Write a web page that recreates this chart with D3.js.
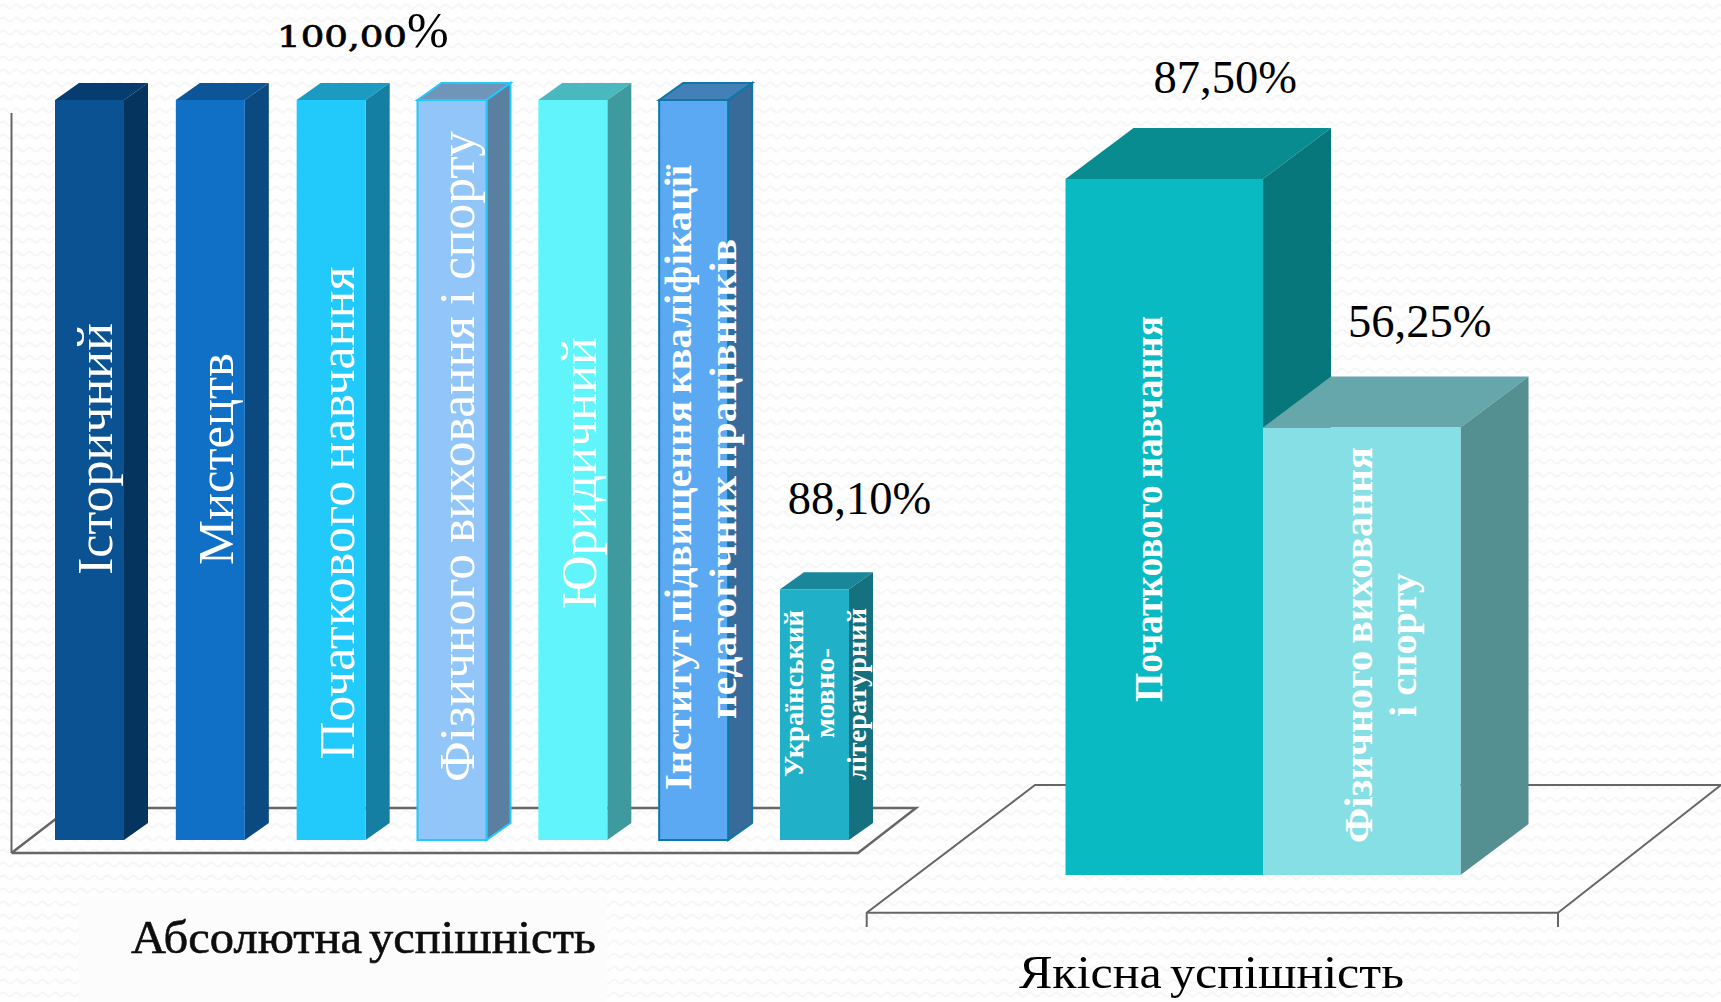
<!DOCTYPE html>
<html>
<head>
<meta charset="utf-8">
<script src="https://cdn.jsdelivr.net/npm/d3@7"></script>
<style>
  html, body { margin: 0; padding: 0; background: #fff; }
  svg { display: block; }
  text { font-family: "Liberation Serif", serif; }
</style>
</head>
<body>
<svg id="chart" width="1721" height="1002"></svg>
<script>
// absolute success, the y axis of this one starts at 82
const absCategories = ['Історичний', 'Мистецтв', 'Початкового навчання', 'Фізичного виховання і спорту', 'Юридичний', 'Інститут підвищення кваліфікації|педагогічних працівників', 'Український|мовно-|літературний'];
const absValues = [100, 100, 100, 100, 100, 100, 88.1];
const absLabels = ['100,00', '88,10%'];

// quality success
const qualCategories = ['Початкового навчання', 'Фізичного виховання|і спорту'];
const qualValues = [87.5, 56.25];
const qualLabels = ['87,50%', '56,25%'];

const absTitle = 'Абсолютна успішність';
const qualTitle = 'Якісна успішність';

const absColors = [
  { front: '#0a5291', side: '#05345f', top: '#073c70' },
  { front: '#1070c6', side: '#0a4a80', top: '#0c5698' },
  { front: '#22c9fb', side: '#147fa3', top: '#1b9bc2' },
  { front: '#92c6f8', side: '#5b7f9f', top: '#7095b9', stroke: '#22c9fb' },
  { front: '#61f4fb', side: '#3e9a9f', top: '#4ab9bf' },
  { front: '#5aa9f2', side: '#386b9a', top: '#4380b8', stroke: '#0d78a8' },
  { front: '#20b1c9', side: '#157080', top: '#198799' },
];
const qualColors = [
  { front: '#0abac2', side: '#07777c', top: '#088c90' },
  { front: '#85dfe4', side: '#548f91', top: '#65a7ab' },
];

const svg = d3.select('#chart');

// faint wavy texture of the slide background
const defs = svg.append('defs');
const wave = defs.append('pattern')
  .attr('id', 'waves')
  .attr('width', 13)
  .attr('height', 13)
  .attr('patternUnits', 'userSpaceOnUse');
wave.append('path')
  .attr('d', 'M0 6.5 Q3.25 2.5 6.5 6.5 T13 6.5')
  .attr('fill', 'none')
  .attr('stroke', '#f6f6f6')
  .attr('stroke-width', 2);
defs.append('filter').attr('id', 'soft').append('feGaussianBlur').attr('stdDeviation', 0.6);

svg.append('rect').attr('width', 1721).attr('height', 1002).attr('fill', '#fefefe');
svg.append('rect').attr('width', 1721).attr('height', 1002).attr('fill', 'url(#waves)');
svg.append('rect').attr('x', 79).attr('y', 897).attr('width', 528).attr('height', 105).attr('fill', '#fcfcfc');

function drawFloor(g, pts, width) {
  g.append('path')
    .attr('d', d3.line()(pts))
    .attr('fill', 'none')
    .attr('stroke', '#666')
    .attr('stroke-width', width);
}

function drawBars(g, cfg) {
  const bar = g.selectAll('.bar')
    .data(cfg.values)
    .join('g')
    .attr('class', 'bar');

  const x0 = (d, i) => cfg.x(i);
  const x1 = (d, i) => cfg.x(i) + cfg.x.bandwidth();
  const yTop = (d) => cfg.y(d);
  const yBase = cfg.y.range()[0];

  bar.append('path')
    .attr('fill', (d, i) => cfg.colors[i].top)
    .attr('stroke', (d, i) => cfg.colors[i].stroke || 'none')
    .attr('stroke-width', 2)
    .attr('d', (d, i) => d3.line()([
      [x0(d, i), yTop(d)], [x0(d, i) + cfg.dx, yTop(d) - cfg.dy],
      [x1(d, i) + cfg.dx, yTop(d) - cfg.dy], [x1(d, i), yTop(d)],
    ]) + 'Z');

  bar.append('path')
    .attr('fill', (d, i) => cfg.colors[i].side)
    .attr('stroke', (d, i) => cfg.colors[i].stroke || 'none')
    .attr('stroke-width', 2)
    .attr('d', (d, i) => d3.line()([
      [x1(d, i), yTop(d)], [x1(d, i) + cfg.dx, yTop(d) - cfg.dy],
      [x1(d, i) + cfg.dx, yBase - cfg.dy], [x1(d, i), yBase],
    ]) + 'Z');

  bar.append('rect')
    .attr('x', x0)
    .attr('y', yTop)
    .attr('width', cfg.x.bandwidth())
    .attr('height', (d) => yBase - cfg.y(d))
    .attr('fill', (d, i) => cfg.colors[i].front)
    .attr('stroke', (d, i) => cfg.colors[i].stroke || 'none')
    .attr('stroke-width', 2);
}

// rotated white label, one <text> per line. baseline = x of the text baseline,
// mid = y the text is centred on, len = measured length along the bar
function drawBarLabel(g, s) {
  g.append('text')
    .attr('transform', `translate(${s.baseline},${s.mid}) rotate(-90)`)
    .attr('text-anchor', 'middle')
    .attr('fill', '#fff')
    .attr('font-size', s.size)
    .attr('font-weight', s.weight || 'normal')
    .attr('word-spacing', s.words || 0)
    .attr('textLength', s.len)
    .attr('lengthAdjust', 'spacingAndGlyphs')
    .text(s.text);
}

// ---- left chart
const left = svg.append('g');
const absY = d3.scaleLinear().domain([82, 100]).range([840, 100]);
const absX = d3.scaleBand()
  .domain(d3.range(absValues.length))
  .range([55, 849])
  .paddingInner(1 - 69 / 120.83)
  .paddingOuter(0);

drawFloor(left, [[11.5, 113], [11.5, 853]], 2);
drawFloor(left, [[11.5, 853], [858, 853], [916, 808], [70, 808], [11.5, 853]], 2.5);
drawBars(left, { values: absValues, colors: absColors, x: absX, y: absY, dx: 24, dy: 17 });

const absLines = absCategories.map((d) => d.split('|')).flat();
[
  { baseline: 112, mid: 449, size: 51, len: 252 },
  { baseline: 233, mid: 459, size: 51, len: 212 },
  { baseline: 354, mid: 513, size: 51, len: 493, words: -2 },
  { baseline: 474, mid: 456.5, size: 50, len: 651, words: -2 },
  { baseline: 596, mid: 473, size: 51, len: 272 },
  { baseline: 691, mid: 477.5, size: 37, len: 625, weight: 'bold', words: -3 },
  { baseline: 736, mid: 479, size: 37, len: 480, weight: 'bold', words: -3 },
  { baseline: 802.5, mid: 693.5, size: 28, len: 167, weight: 'bold' },
  { baseline: 834, mid: 693, size: 27, len: 90, weight: 'bold' },
  { baseline: 866, mid: 694, size: 28, len: 172, weight: 'bold' },
].forEach((s, i) => {
  drawBarLabel(left, { ...s, text: absLines[i] });
});

const valueLabels = svg.append('g').attr('fill', '#000');
// the reference has old style figures, DejaVu Serif at a small size is the closest
const oldStyle = valueLabels.append('text')
  .attr('x', 277)
  .attr('y', 47);
oldStyle.append('tspan')
  .attr('font-family', '"DejaVu Serif", serif')
  .attr('font-size', 30)
  .attr('stroke', '#000')
  .attr('stroke-width', 0.7)
  .attr('textLength', 130)
  .attr('lengthAdjust', 'spacingAndGlyphs')
  .text(absLabels[0]);
oldStyle.append('tspan').attr('font-size', 50).text('%');
valueLabels.append('text')
  .attr('x', absX(6) + absX.bandwidth() / 2 + 45)
  .attr('y', absY(absValues[6]) - 75)
  .attr('text-anchor', 'middle')
  .attr('font-size', 46.5)
  .text(absLabels[1]);

svg.append('text')
  .attr('x', 131)
  .attr('y', 953)
  .attr('font-size', 47)
  .attr('fill', '#111')
  .attr('stroke', '#111')
  .attr('stroke-width', 0.6)
  .attr('word-spacing', -5)
  .attr('textLength', 465)
  .attr('lengthAdjust', 'spacingAndGlyphs')
  .attr('filter', 'url(#soft)')
  .text(absTitle);

// ---- right chart
const right = svg.append('g');
const qualY = d3.scaleLinear().domain([0, 100]).range([875, 79.6]);
const qualX = d3.scaleBand()
  .domain(d3.range(qualValues.length))
  .range([1065.5, 1460.5]);

drawFloor(right, [[866.7, 927], [866.7, 912.7], [1035, 785], [1721, 785]], 2);
drawFloor(right, [[866.7, 912.7], [1558, 912.7], [1558, 927]], 2);
drawFloor(right, [[1558, 912.7], [1721, 785]], 2);
drawBars(right, { values: qualValues, colors: qualColors, x: qualX, y: qualY, dx: 68, dy: 51 });

const qualLines = qualCategories.map((d) => d.split('|')).flat();
[
  { baseline: 1161.5, mid: 509, size: 40, len: 386, weight: 'bold', words: -3 },
  { baseline: 1371.5, mid: 645, size: 40, len: 396, weight: 'bold', words: -3 },
  { baseline: 1416, mid: 645, size: 37, len: 144, weight: 'bold' },
].forEach((s, i) => {
  drawBarLabel(right, { ...s, text: qualLines[i] });
});

qualValues.forEach((v, i) => {
  valueLabels.append('text')
    .attr('x', qualX(i) + qualX.bandwidth() / 2 + (i === 0 ? 61 : 58))
    .attr('y', qualY(v) - (i === 0 ? 86 : 91))
    .attr('text-anchor', 'middle')
    .attr('font-size', 46.5)
    .text(qualLabels[i]);
});

svg.append('text')
  .attr('x', 1019)
  .attr('y', 988)
  .attr('font-size', 47)
  .attr('fill', '#000')
  .attr('word-spacing', -4)
  .attr('textLength', 385)
  .attr('lengthAdjust', 'spacingAndGlyphs')
  .text(qualTitle);
</script>
</body>
</html>
